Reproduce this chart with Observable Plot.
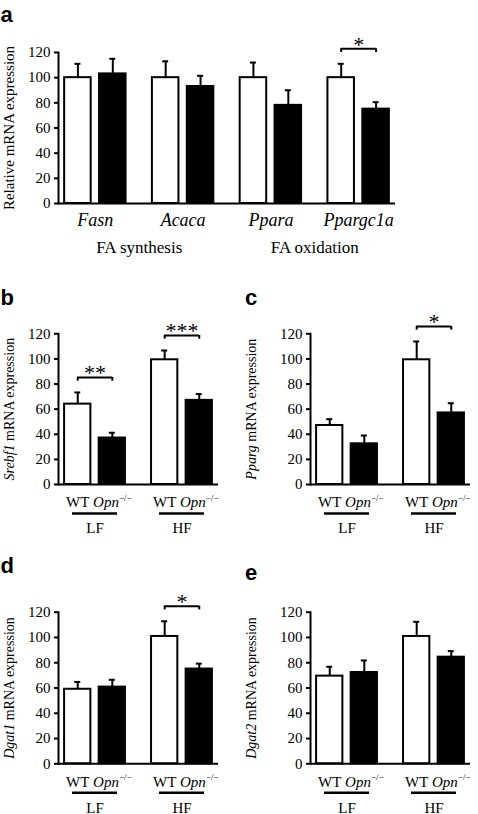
<!DOCTYPE html>
<html><head><meta charset="utf-8">
<script src="https://cdn.jsdelivr.net/npm/d3@7"></script>
<script src="https://cdn.jsdelivr.net/npm/@observablehq/plot@0.6"></script>
<style>
html,body{margin:0;padding:0;background:#fff;overflow:hidden}
#root{position:relative;width:478px;height:814px;background:#fff}
#root > svg{position:absolute}
</style></head><body><div id="root"></div>
<script>
// ---------------- data ----------------
// panel a
const genesA = ["Fasn", "Acaca", "Ppara", "Ppargc1a"];
const wtA = [100, 100, 100, 100];
const wtSemA = [11, 13, 12, 11];
const koA = [103, 93, 78, 75];
const koSemA = [12, 8.5, 12, 5.5];
const sigA = ["", "", "", "*"];
const pathwaysA = ["FA synthesis", "FA oxidation"];
const pathwayFirstGeneA = ["Fasn", "Ppara"];

// panels b-e
const diets = ["LF", "HF"];
const genotypeLabels = ["WT", "Opn−/−"];

const srebf1Wt = [64, 99.3], srebf1WtSem = [9.3, 7.4];
const srebf1Ko = [37, 67], srebf1KoSem = [4.2, 5];
const srebf1Sig = ["**", "***"];

const ppargWt = [47, 99.3], ppargWtSem = [5, 14.6];
const ppargKo = [32.4, 57], ppargKoSem = [6.6, 7.7];
const ppargSig = ["", "*"];

const dgat1Wt = [59, 100.8], dgat1WtSem = [5.8, 12];
const dgat1Ko = [60.7, 75], dgat1KoSem = [5.8, 4.3];
const dgat1Sig = ["", "*"];

const dgat2Wt = [69.4, 100.8], dgat2WtSem = [7.4, 11.6];
const dgat2Ko = [72.3, 84.4], dgat2KoSem = [9.5, 4.8];
const dgat2Sig = ["", ""];

const yTicks = [0, 20, 40, 60, 80, 100, 120];
const yTitles = ["Relative mRNA expression", "Srebf1 mRNA expression", "Pparg mRNA expression", "Dgat1 mRNA expression", "Dgat2 mRNA expression"];
const panelLetters = ["a", "b", "c", "d", "e"];

// ---------------- drawing ----------------
const root = document.getElementById("root");
const SERIF = "'Liberation Serif', 'Times New Roman', serif";
const PI = 0.3, PO = 0.07, BAR_FRAC = 0.432, CAP_HALF = 3;

function decorate(svg) {
  d3.select(svg).selectAll("text").each(function () {
    const t = this.textContent;
    const el = d3.select(this);
    if (t === "Opn−/−") {
      el.text(null);
      el.append("tspan").attr("font-style", "italic").text("Opn");
      el.append("tspan").attr("font-size", "9px").attr("dy", "-0.7em").text("−/−");
    } else {
      const m = t.match(/^(\S+)( mRNA expression)$/);
      if (m && m[1] !== "Relative") {
        el.text(null).style("white-space", "pre");
        el.append("tspan").attr("font-style", "italic").text(m[1]);
        el.append("tspan").text(m[2]);
      }
    }
  });
}

function drawPanel(cfg) {
  const {groups, wt, wtSem, ko, koSem, sig, left, top, width, height,
         marginLeft, marginRight, marginTop, marginBottom, title, titleSize, titleDx, kind} = cfg;
  const band = d3.scaleBand(groups, [marginLeft, width - marginRight]).paddingInner(PI).paddingOuter(PO);
  const bw = band.bandwidth(), step = band.step();
  const barW = bw * BAR_FRAC, off = bw / 2 - barW / 2;
  const rows = groups.map((g, i) => ({
    g, wt: wt[i], wtTop: wt[i] + wtSem[i], ko: ko[i], koTop: ko[i] + koSem[i], sig: sig[i]
  }));
  const sigRows = rows.filter(d => d.sig).map(d => ({...d, by: Math.max(d.wtTop, d.koTop) + 12}));
  const marks = [
    Plot.barY(rows, {x: "g", y: "wt", fill: "white", stroke: "black", strokeWidth: 2, insetRight: bw - barW}),
    Plot.barY(rows, {x: "g", y: "ko", fill: "black", stroke: "black", strokeWidth: 2, insetLeft: bw - barW}),
    Plot.ruleX(rows, {x: "g", y1: "wt", y2: "wtTop", dx: -off, strokeWidth: 2}),
    Plot.ruleX(rows, {x: "g", y1: "ko", y2: "koTop", dx: off, strokeWidth: 2}),
    Plot.tickY(rows, {x: "g", y: "wtTop", insetLeft: barW / 2 - CAP_HALF, insetRight: bw - barW / 2 - CAP_HALF, strokeWidth: 2}),
    Plot.tickY(rows, {x: "g", y: "koTop", insetLeft: bw - barW / 2 - CAP_HALF, insetRight: barW / 2 - CAP_HALF, strokeWidth: 2}),
    Plot.tickY(sigRows, {x: "g", y: "by", insetLeft: barW / 2, insetRight: barW / 2, strokeWidth: 2}),
    Plot.ruleX(sigRows, {x: "g", y1: d => d.by - 3, y2: "by", dx: -off, strokeWidth: 2}),
    Plot.ruleX(sigRows, {x: "g", y1: d => d.by - 3, y2: "by", dx: off, strokeWidth: 2}),
    Plot.text(sigRows, {x: "g", y: "by", text: "sig", lineAnchor: "bottom", dy: 3, fontSize: 22}),
    Plot.ruleY([0], {strokeWidth: 2}),
    Plot.frame({anchor: "left", strokeWidth: 2}),
    Plot.axisY({ticks: yTicks, tickSize: 4, tickPadding: 4, strokeWidth: 2, label: null, tickFormat: d => d, fontSize: 15}),
    Plot.text([title], {frameAnchor: "left", textAnchor: "middle", rotate: -90, dx: titleDx, fontSize: titleSize, lineAnchor: "middle"})
  ];
  if (kind === "genes") {
    marks.push(Plot.text(rows, {x: "g", text: "g", frameAnchor: "bottom", dy: 17, fontSize: 18, fontStyle: "italic", lineAnchor: "middle"}));
    const pw = pathwaysA.map((p, i) => ({p, g: pathwayFirstGeneA[i]}));
    marks.push(Plot.text(pw, {x: "g", text: "p", frameAnchor: "bottom", dy: 44, dx: step / 2, fontSize: 17, lineAnchor: "middle"}));
  } else {
    marks.push(Plot.text(rows, {x: "g", text: () => genotypeLabels[0], frameAnchor: "bottom", dy: 18, dx: -off, fontSize: 15, lineAnchor: "middle"}));
    marks.push(Plot.text(rows, {x: "g", text: () => genotypeLabels[1], frameAnchor: "bottom", dy: 18, dx: off, fontSize: 15, lineAnchor: "middle"}));
    marks.push(Plot.tickY(rows, {x: "g", y: () => 0, dy: 29, insetLeft: (bw - 45) / 2, insetRight: (bw - 45) / 2, strokeWidth: 2.5}));
    marks.push(Plot.text(rows, {x: "g", text: "g", frameAnchor: "bottom", dy: 44, fontSize: 15, lineAnchor: "middle"}));
  }
  const svg = Plot.plot({
    width, height, marginLeft, marginRight, marginTop, marginBottom,
    x: {type: "band", domain: groups, paddingInner: PI, paddingOuter: PO, round: false, axis: null},
    y: {domain: [0, 120]},
    style: {fontFamily: SERIF, fontSize: "15px", color: "black", background: "transparent", overflow: "visible"},
    marks
  });
  svg.style.left = left + "px";
  svg.style.top = top + "px";
  decorate(svg);
  root.appendChild(svg);
}

drawPanel({kind: "genes", groups: genesA, wt: wtA, wtSem: wtSemA, ko: koA, koSem: koSemA, sig: sigA,
  left: 0, top: 0, width: 478, height: 262, marginLeft: 58, marginRight: 83, marginTop: 52, marginBottom: 59,
  title: yTitles[0], titleSize: 15, titleDx: -49});
drawPanel({kind: "diet", groups: diets, wt: srebf1Wt, wtSem: srebf1WtSem, ko: srebf1Ko, koSem: srebf1KoSem, sig: srebf1Sig,
  left: 0, top: 280, width: 226, height: 270, marginLeft: 58, marginRight: 8, marginTop: 53.3, marginBottom: 66,
  title: yTitles[1], titleSize: 14, titleDx: -49});
drawPanel({kind: "diet", groups: diets, wt: ppargWt, wtSem: ppargWtSem, ko: ppargKo, koSem: ppargKoSem, sig: ppargSig,
  left: 240, top: 280, width: 238, height: 270, marginLeft: 70, marginRight: 8, marginTop: 53.3, marginBottom: 66,
  title: yTitles[2], titleSize: 14, titleDx: -59});
drawPanel({kind: "diet", groups: diets, wt: dgat1Wt, wtSem: dgat1WtSem, ko: dgat1Ko, koSem: dgat1KoSem, sig: dgat1Sig,
  left: 0, top: 550, width: 226, height: 264, marginLeft: 58, marginRight: 8, marginTop: 61.7, marginBottom: 50.7,
  title: yTitles[3], titleSize: 14, titleDx: -49});
drawPanel({kind: "diet", groups: diets, wt: dgat2Wt, wtSem: dgat2WtSem, ko: dgat2Ko, koSem: dgat2KoSem, sig: dgat2Sig,
  left: 240, top: 550, width: 238, height: 264, marginLeft: 70, marginRight: 8, marginTop: 61.7, marginBottom: 50.7,
  title: yTitles[4], titleSize: 14, titleDx: -59});

// panel letters
const letterPos = [[0.5, 22], [0.5, 305], [245, 305], [0.5, 573], [245, 580]];
const overlay = d3.select(root).append("svg").attr("width", 478).attr("height", 814)
  .style("left", "0px").style("top", "0px").style("pointer-events", "none");
overlay.selectAll("text").data(panelLetters).join("text")
  .attr("x", (d, i) => letterPos[i][0]).attr("y", (d, i) => letterPos[i][1])
  .attr("font-family", "'Liberation Sans', Arial, sans-serif").attr("font-weight", "bold").attr("font-size", 22)
  .text(d => d);
</script>
</body></html>
